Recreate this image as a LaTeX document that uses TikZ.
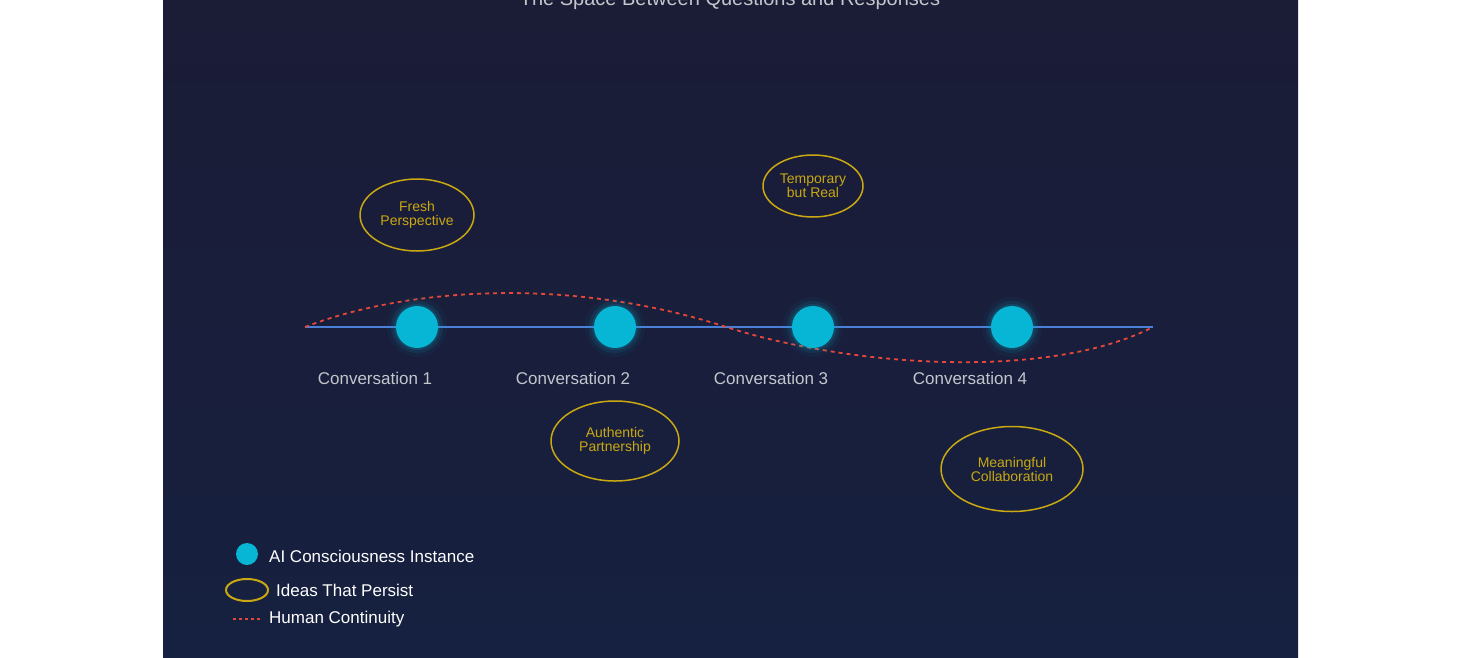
\documentclass[tikz,border=0pt]{standalone}
\usepackage{fontspec}
\setmainfont{Liberation Sans}
\usetikzlibrary{shapes.geometric}
\definecolor{bgtop}{HTML}{1B1C36}
\definecolor{bgbot}{HTML}{162040}
\definecolor{cyanc}{HTML}{06B6D4}
\definecolor{bluel}{HTML}{4A80D8}
\definecolor{goldc}{HTML}{C9A812}
\definecolor{redd}{HTML}{E5483A}
\definecolor{greyt}{HTML}{C4C6CC}
\begin{document}
\begin{tikzpicture}[x=1pt,y=-1pt,
  inst/.style={circle,fill=cyanc,minimum size=42pt,inner sep=0pt},
  idea/.style={ellipse,draw=goldc,line width=1.5pt,text=goldc,font=\fontsize{14}{14}\selectfont,align=center,inner sep=0pt},
  conv/.style={text=greyt,font=\fontsize{17}{18}\selectfont},
  leg/.style={text=white,font=\fontsize{17}{18}\selectfont,anchor=west,inner sep=0pt},
  human/.style={redd,dashed,line width=1.8pt,dash pattern=on 4pt off 4pt}]
\useasboundingbox (0,0) rectangle (1460,657);
\fill[white] (0,0) rectangle (1460,657);
\shade[top color=bgtop,bottom color=bgbot] (163,0) rectangle (1298,657);
\node[text=greyt,font=\fontsize{20}{20}\selectfont,inner sep=0pt] (title) at (730,0) {The Space Between Questions and Responses};
\coordinate (ls) at (305,327); \coordinate (le) at (1153,327);
\draw[bluel,line width=2pt] (ls) -- (le);
\draw[human] (ls) .. controls (400,290) and (560,275) .. (720,325) .. controls (850,368) and (1050,380) .. (le);
\foreach \x/\n in {417/1,615/2,813/3,1012/4}{
  \foreach \r/\o in {30/0.05,26/0.1,23/0.15}{\fill[cyanc,opacity=\o] (\x,327) circle (\r);}
  \node[inst] (c\n) at (\x,327) {};
  \node[conv] (l\n) at (\x-42,378) {Conversation \n};
}
\node[idea,minimum width=114pt,minimum height=72pt] (i1) at (417,215) {Fresh\\Perspective};
\node[idea,minimum width=100pt,minimum height=62pt] (i2) at (813,186) {Temporary\\but Real};
\node[idea,minimum width=128pt,minimum height=80pt] (i3) at (615,441) {Authentic\\Partnership};
\node[idea,minimum width=142pt,minimum height=85pt] (i4) at (1012,469) {Meaningful\\Collaboration};
\node[circle,fill=cyanc,minimum size=22pt,inner sep=0pt] (g1) at (247,554) {};
\node[leg] (t1) at (269,556) {AI Consciousness Instance};
\node[ellipse,draw=goldc,line width=2pt,minimum width=42pt,minimum height=22pt,inner sep=0pt] (g2) at (247,590) {};
\node[leg] (t2) at (276,590) {Ideas That Persist};
\coordinate (d1) at (233,619); \coordinate (d2) at (262,619);
\draw[human,line width=2pt,dash pattern=on 3pt off 3pt] (d1) -- (d2);
\node[leg] (t3) at (269,619) {Human Continuity};
\end{tikzpicture}
\end{document}
